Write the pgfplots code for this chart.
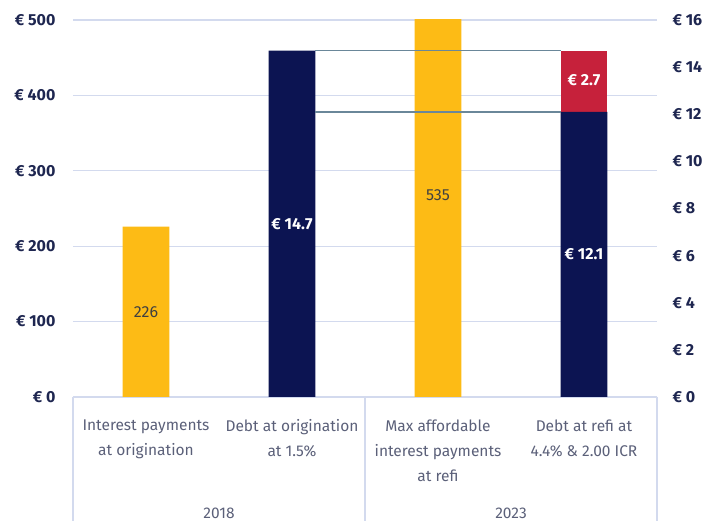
\documentclass[border=0pt]{standalone}
\usepackage{pgfplots}
\pgfplotsset{compat=1.18}
\usepackage{fontspec}
\setmainfont{Fira Sans}

\definecolor{gold}{HTML}{FDBB15}
\definecolor{navy}{HTML}{0C1452}
\definecolor{crim}{HTML}{C6213B}
\definecolor{gridc}{HTML}{D3DAEE}
\definecolor{tickc}{HTML}{1E2650}
\definecolor{labc}{HTML}{5B6079}
\definecolor{conn}{HTML}{6A8799}

\pgfplotsset{
  base/.style={
    scale only axis, width=584pt, height=377pt,
    xmin=0, xmax=4, clip=true,
    axis line style={draw=none},
    major tick length=0pt,
    /pgf/number format/assume math mode=true,
    ticklabel style={font=\fontsize{16}{18}\selectfont\bfseries, text=tickc},
  }
}

\begin{document}
\begin{tikzpicture}
% left axis: interest payments
\begin{axis}[base,
  ymin=0, ymax=500, ytick={0,100,...,500},
  ytick pos=left,
  yticklabel={€ \pgfmathprintnumber{\tick}},
  yticklabel style={xshift=-14pt},
  ymajorgrids, grid style={gridc, line width=1.3pt},
  xtick={0.5,1.5,2.5,3.5},
  xticklabels={Interest payments\\at origination,
               Debt at origination\\at 1.5\%,
               Max affordable\\interest payments\\at refi,
               Debt at refi at\\4.4\% \& 2.00 ICR},
  xticklabel style={align=center, text=labc,
    font=\fontsize{15.5}{25}\selectfont, yshift=-19pt},
]
\addplot[ybar, bar width=0.32, bar shift=0pt, fill=gold, draw=none]
  coordinates {(0.5,226) (2.5,535)};
\node[text=black!75, font=\fontsize{16}{18}\selectfont] at (axis cs:0.5,113) {226};
\node[text=black!75, font=\fontsize{16}{18}\selectfont] at (axis cs:2.5,267.5) {535};
\coordinate (bl) at (rel axis cs:0,0);
\coordinate (tr) at (rel axis cs:1,1);
\coordinate (g1) at (axis cs:1,0);
\coordinate (g2) at (axis cs:3,0);
\coordinate (s0) at (axis cs:0,0);
\coordinate (s1) at (axis cs:2,0);
\coordinate (s2) at (axis cs:4,0);
\end{axis}

% right axis: debt
\begin{axis}[base,
  ymin=0, ymax=16, ytick={0,2,...,16},
  ytick pos=right, yticklabel pos=right,
  yticklabel={€ \pgfmathprintnumber{\tick}},
  yticklabel style={xshift=12pt},
  xtick=\empty,
]
\addplot[ybar, bar width=0.32, bar shift=0pt, fill=crim, draw=none]
  coordinates {(3.5,14.7)};
\addplot[ybar, bar width=0.32, bar shift=0pt, fill=navy, draw=none]
  coordinates {(1.5,14.7) (3.5,12.1)};
\addplot[conn, line width=1.6pt] coordinates {(1.66,14.7) (3.34,14.7)};
\addplot[conn, line width=1.6pt] coordinates {(1.66,12.1) (3.34,12.1)};
\node[text=white, font=\fontsize{16}{18}\selectfont\bfseries] at (axis cs:1.5,7.35) {€ 14.7};
\node[text=white, font=\fontsize{16}{18}\selectfont\bfseries] at (axis cs:3.5,6.05) {€ 12.1};
\node[text=white, font=\fontsize{16}{18}\selectfont\bfseries] at (axis cs:3.5,13.45) {€ 2.7};
\end{axis}

% group separators and labels
\foreach \s in {s0,s1,s2}
  \draw[gridc, line width=1.3pt] (\s) -- ++(0,-130pt);
\node[text=labc, font=\fontsize{15.5}{18}\selectfont, anchor=base] at ([yshift=-121pt]g1) {2018};
\node[text=labc, font=\fontsize{15.5}{18}\selectfont, anchor=base] at ([yshift=-121pt]g2) {2023};

\pgfresetboundingbox
\path ([xshift=-73pt,yshift=-124pt]bl) rectangle ([xshift=57pt,yshift=20pt]tr);
\end{tikzpicture}
\end{document}
